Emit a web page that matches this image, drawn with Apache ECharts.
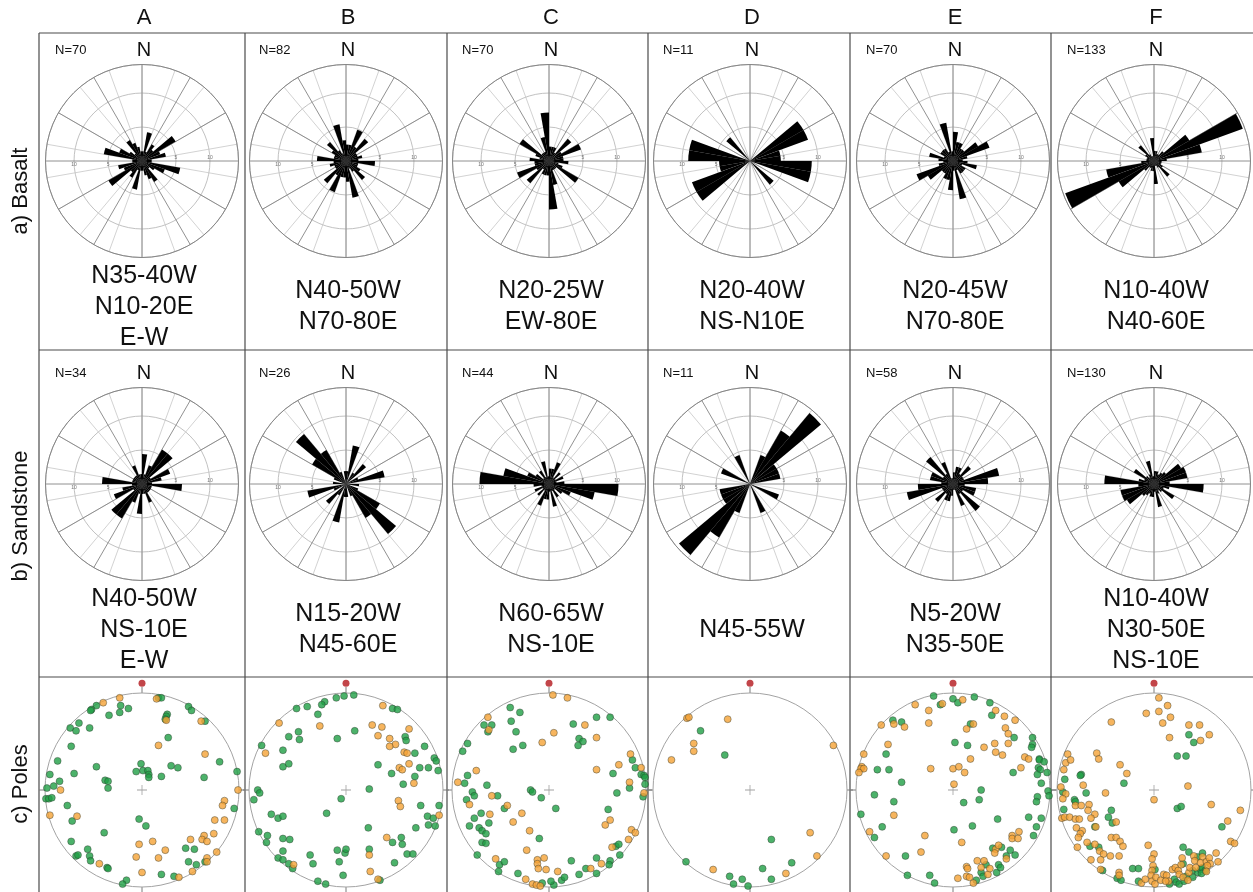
<!DOCTYPE html>
<html>
<head>
<meta charset="utf-8">
<script src="https://cdn.jsdelivr.net/npm/echarts@6/dist/echarts.min.js"></script>
<style>
html,body{margin:0;padding:0;background:#fff;}
#chart{width:1253px;height:892px;}
</style>
</head>
<body>
<div id="chart"></div>
<script>
// ---- Data -------------------------------------------------------------
const columns = ['A', 'B', 'C', 'D', 'E', 'F'];
const rowTitles = ['a) Basalt', 'b) Sandstone', 'c) Poles'];

// 10° strike bins, clockwise from north
const binStarts = [0,10,20,30,40,50,60,70,80,90,100,110,120,130,140,150,160,170,
                   180,190,200,210,220,230,240,250,260,270,280,290,300,310,320,330,340,350];

// strike counts per 10° bin (0-180°); each strike is axial, so the 180-360° half repeats it
const basaltA = [2,6,2,4,3,8,4,5,2,2,8,5,3,2,5,4,3,2];
const basaltB = [4,4,8,4,7,3,3,4,3,7,3,3,4,6,3,2,9,5];
const basaltC = [3,3,3,2,6,3,7,3,3,4,2,3,7,2,2,2,5,10];
const basaltD = [0,0,0,0,0,2,2,1,1,2,2,0,0,1,0,0,0,0];
const basaltE = [6,4,4,3,3,6,8,3,2,3,5,2,3,3,3,2,8,2];
const basaltF = [4,4,3,3,5,16,37,19,5,3,3,3,4,8,3,2,2,9];
const sandA = [3,1,2,4,4,1,3,2,1,4,1,1,1,1,1,2,1,1];
const sandB = [1,3,0,1,2,0,1,3,0,1,0,1,3,5,3,1,0,1];
const sandC = [2,2,3,1,2,1,2,1,2,9,6,3,2,1,2,1,3,1];
const sandD = [0,0,1,2,3,1,1,1,0,0,0,1,0,0,0,1,0,0];
const sandE = [2,3,3,2,4,2,2,8,6,2,4,4,2,6,2,4,1,1];
const sandF = [5,5,4,5,6,12,13,13,6,19,6,4,9,4,3,4,9,3];

const nBasalt = [70, 82, 70, 11, 70, 133];
const nSand = [34, 26, 44, 11, 58, 130];

const basaltTrends = [['N35-40W','N10-20E','E-W'], ['N40-50W','N70-80E'], ['N20-25W','EW-80E'],
                      ['N20-40W','NS-N10E'], ['N20-45W','N70-80E'], ['N10-40W','N40-60E']];
const sandTrends = [['N40-50W','NS-10E','E-W'], ['N15-20W','N45-60E'], ['N60-65W','NS-10E'],
                    ['N45-55W'], ['N5-20W','N35-50E'], ['N10-40W','N30-50E','NS-10E']];

const roseTicks = [5, 10];

// poles on the net, [x, y] with the primitive circle at radius 100
const polesBasaltA = [[17,95],[20,95],[-47,87],[-52,83],[-53,82],[-22,87],[-14,84],[-23,80],[-34,77],[-65,69],[-74,64],[-68,61],[-54,64],[26,78],[25,76],[24,73],[48,86],[51,82],[65,71],[27,54],[-73,45],[-87,30],[-47,24],[-70,17],[-95,16],[-1,27],[-6,19],[1,20],[6,20],[7,16],[7,13],[20,14],[30,25],[37,23],[80,29],[98,19],[64,13],[-38,10],[-35,9],[-35,2],[-85,9],[-91,4],[-98,2],[-99,-9],[-96,-9],[-93,-8],[-77,-16],[-72,-32],[95,-19],[-3,-30],[4,-37],[-39,-44],[-73,-53],[45,-60],[54,-61],[-56,-61],[-68,-68],[-66,-67],[-54,-68],[-53,-73],[-36,-80],[-35,-81],[48,-74],[56,-77],[65,-74],[20,-87],[33,-89],[-16,-93],[-20,-97]];
const polesSandA = [[15,94],[-23,95],[-40,90],[25,72],[61,71],[17,46],[65,37],[-84,0],[-95,-26],[-67,-27],[99,0],[85,-11],[83,-16],[75,-31],[85,-31],[74,-45],[64,-47],[62,-51],[67,-53],[50,-51],[-3,-56],[11,-53],[24,-62],[-44,-76],[-6,-69],[17,-70],[67,-70],[67,-74],[77,-64],[0,-85],[38,-90],[52,-84]];

const polesBasaltB = [[-2,97],[-10,95],[8,98],[-22,91],[-25,88],[-40,86],[-51,84],[-29,78],[-49,60],[-59,55],[-48,52],[-9,53],[9,61],[-87,46],[-65,41],[-65,24],[-59,27],[48,84],[53,83],[61,55],[62,51],[81,45],[71,38],[76,23],[85,23],[91,33],[93,30],[95,20],[71,14],[59,6],[47,17],[33,26],[24,1],[-5,-9],[-20,-24],[-91,0],[-89,-3],[-95,-10],[-77,-25],[-70,-29],[-65,-27],[-90,-43],[-81,-47],[-82,-54],[-65,-50],[-58,-51],[-65,-63],[-70,-70],[-65,-72],[-59,-76],[-55,-81],[-34,-76],[-37,-67],[-29,-94],[-21,-97],[-3,-88],[-7,-74],[-9,-62],[-1,-65],[0,-61],[23,-39],[24,-61],[35,-93],[48,-54],[57,-49],[58,-56],[50,-75],[63,-66],[69,-66],[72,-39],[77,-16],[84,-27],[90,-29],[85,-36],[92,-37],[96,-16]];
const polesSandB = [[-69,69],[-27,66],[-83,38],[38,87],[27,67],[37,65],[33,56],[45,53],[51,47],[45,45],[65,63],[60,39],[63,38],[65,27],[55,23],[58,21],[70,7],[-54,-77],[24,-67],[25,-84],[33,-92],[42,-49],[96,-26],[54,-11],[56,-17]];

const polesBasaltC = [[-40,85],[-30,80],[-67,67],[-59,67],[-63,60],[-39,71],[-34,60],[-84,48],[-89,40],[-37,42],[-27,46],[25,68],[49,75],[63,75],[31,53],[35,50],[30,46],[86,31],[89,23],[66,17],[95,16],[98,15],[99,13],[83,2],[99,6],[97,-7],[70,-3],[-84,15],[-87,7],[-64,5],[-79,-2],[-77,-6],[-85,-10],[-53,-6],[-19,0],[-17,-2],[-8,-8],[7,-19],[-46,-19],[-70,-24],[-77,-29],[-62,-34],[-82,-37],[-72,-39],[-69,-42],[-65,-45],[-69,-54],[-65,-55],[-10,-50],[-74,-67],[-51,-77],[-46,-74],[-52,-84],[-32,-86],[-7,-96],[5,-98],[2,-94],[13,-93],[16,-90],[23,-73],[31,-87],[38,-81],[49,-86],[49,-70],[63,-73],[62,-77],[69,-58],[72,-56],[73,-67],[61,-20]];
const polesSandC = [[4,98],[19,95],[-63,75],[-62,62],[-7,49],[5,59],[37,67],[49,54],[84,37],[72,26],[95,23],[49,21],[83,8],[98,-3],[-75,20],[-94,8],[-82,-15],[-59,-6],[-43,-16],[-28,-24],[-61,-25],[-37,-33],[-20,-42],[-55,-71],[-23,-62],[-12,-72],[-12,-76],[-11,-81],[-5,-70],[-3,-82],[9,-84],[-24,-92],[-17,-97],[-13,-98],[-9,-99],[43,-81],[54,-76],[65,-59],[82,-51],[85,-41],[89,-44],[58,-36],[63,-31]];

const polesBasaltD = [[-51,61],[-26,36],[22,-51],[43,-75],[13,-81],[22,-92],[-66,-74],[-21,-89],[-17,-97],[-8,-92],[-2,-99]];
const polesSandD = [[-65,74],[-63,75],[-23,73],[-58,48],[-58,40],[-81,31],[86,46],[62,-44],[69,-68],[37,-86],[-38,-82]];

const polesBasaltE = [[-20,97],[0,94],[5,90],[22,96],[-13,88],[38,90],[40,77],[-62,72],[-53,70],[18,68],[63,54],[82,54],[82,47],[81,44],[2,49],[15,46],[62,18],[89,32],[89,31],[94,29],[88,23],[90,21],[97,18],[87,16],[91,7],[98,-1],[99,-6],[87,-7],[86,-12],[-69,37],[-78,21],[-66,21],[-53,8],[29,0],[27,-10],[11,-13],[-81,-5],[-61,-12],[-95,-25],[-73,-38],[-81,-49],[46,-30],[78,-28],[91,-29],[86,-38],[83,-47],[1,-41],[20,-37],[-49,-68],[-47,-88],[-24,-88],[-19,-96],[24,-93],[29,-85],[34,-77],[31,-89],[41,-60],[50,-59],[47,-77],[45,-85],[55,-68],[59,-62],[64,-67],[49,-80]];
const polesSandE = [[10,93],[-11,89],[-39,88],[-25,82],[44,82],[53,76],[64,72],[-61,68],[-50,65],[-74,67],[-25,69],[21,68],[14,63],[54,64],[57,58],[32,44],[43,48],[57,48],[44,39],[51,36],[74,34],[78,32],[70,23],[-67,47],[-92,37],[-94,24],[-95,22],[-92,22],[-97,18],[-23,22],[0,22],[6,24],[12,18],[18,32],[1,6],[-61,-26],[-86,-43],[68,-43],[61,-47],[61,-50],[67,-50],[9,-54],[-29,-47],[-33,-64],[-69,-68],[5,-91],[14,-79],[15,-81],[14,-89],[17,-90],[21,-96],[25,-73],[29,-80],[32,-73],[36,-87],[38,-81],[44,-61],[43,-65],[47,-57],[55,-71]];

const polesBasaltF = [[36,57],[41,49],[24,35],[33,35],[-31,7],[-75,16],[-76,15],[-92,11],[-94,-2],[-70,-3],[-82,-10],[-81,-12],[-93,-20],[-44,-21],[-47,-28],[-43,-34],[-61,-38],[24,-19],[28,-17],[70,-38],[-66,-58],[-57,-59],[-53,-83],[-22,-81],[-16,-81],[1,-82],[-38,-91],[-34,-93],[-16,-94],[21,-92],[23,-95],[30,-76],[30,-59],[36,-64],[45,-69],[50,-65],[33,-89],[40,-83],[45,-85],[48,-82],[50,-80],[53,-83],[40,-90],[26,-97],[31,-94],[16,-97],[49,-86]];
const polesSandF = [[5,95],[-8,79],[5,81],[14,87],[17,75],[9,69],[-44,70],[36,67],[47,67],[57,57],[48,51],[16,54],[-89,37],[-91,28],[-86,31],[-93,21],[-59,38],[-57,32],[-35,26],[-28,17],[-73,5],[-96,3],[-91,-4],[-50,-3],[-81,-16],[-75,-16],[-94,-9],[-67,-15],[-68,-21],[-61,-25],[-65,-29],[-39,-33],[-95,-29],[-92,-28],[-87,-28],[-81,-30],[-77,-30],[-80,-39],[-74,-42],[-76,-45],[-78,-49],[-60,-38],[0,-10],[35,4],[59,-15],[89,-21],[76,-32],[-79,-59],[-69,-54],[-61,-56],[-56,-63],[-52,-66],[-44,-49],[-39,-49],[-35,-53],[-32,-58],[-36,-68],[-45,-68],[-65,-72],[-55,-72],[-55,-82],[-6,-57],[0,-66],[-2,-71],[-1,-78],[-2,-83],[-36,-85],[-36,-88],[-13,-96],[-9,-92],[-3,-88],[-2,-94],[2,-90],[1,-97],[7,-93],[10,-87],[13,-88],[15,-94],[19,-82],[22,-80],[25,-83],[28,-77],[29,-70],[41,-68],[42,-73],[50,-69],[48,-75],[54,-74],[57,-70],[58,-76],[64,-65],[66,-74],[79,-53],[83,-55],[26,-87],[30,-90],[36,-85],[37,-80],[43,-80],[55,-78],[35,-93],[12,-94],[54,-84]];

// north marker position on each net
const northMarker = [[0, 110]];
const netCentre = [[0, 0]];

// ---- Layout -------------------------------------------------------------
const colX = [142, 346, 549, 750, 953, 1154];
const colBorders = [39, 245, 447, 648, 850, 1051];
const rowLines = [33, 350, 677];
const roseY = [161, 484];
const netY = 790;
const ROSE_R = 96.5;
const ROSE_MAX = 14.2;   // percent at the outer circle
const NET_R = 97;
const FONT = '"Liberation Sans", Arial, sans-serif';

const basaltSets = [basaltA, basaltB, basaltC, basaltD, basaltE, basaltF];
const sandSets = [sandA, sandB, sandC, sandD, sandE, sandF];
const basaltPoles = [polesBasaltA, polesBasaltB, polesBasaltC, polesBasaltD, polesBasaltE, polesBasaltF];
const sandPoles = [polesSandA, polesSandB, polesSandC, polesSandD, polesSandE, polesSandF];

const polar = [], angleAxis = [], radiusAxis = [], grid = [], xAxis = [], yAxis = [], series = [], graphic = [];

const hidden = { show: false };

function addRose(cx, cy, counts, n) {
  // percent of all bin entries (each strike fills two opposite bins)
  const pct = counts.concat(counts).map(c => +(c * 100 / (2 * n)).toFixed(3));

  // bars + 10° spokes + ring lines
  let p = polar.length;
  polar.push({ center: [cx, cy], radius: ROSE_R });
  angleAxis.push({
    polarIndex: p, type: 'category', data: binStarts, startAngle: 90, clockwise: true, boundaryGap: true,
    axisLine: { show: true, lineStyle: { color: '#868686', width: 1 } },
    axisTick: hidden, axisLabel: hidden,
    splitLine: { show: true, lineStyle: { color: '#c6c6c6', width: 0.8 } }
  });
  radiusAxis.push({
    polarIndex: p, type: 'value', min: 0, max: ROSE_MAX, interval: 5,
    axisLine: hidden, axisTick: hidden, axisLabel: hidden,
    splitLine: { show: true, lineStyle: { color: '#bababa', width: 0.9 } }
  });
  series.push({
    type: 'bar', coordinateSystem: 'polar', polarIndex: p, data: pct,
    barCategoryGap: '0%', barGap: '0%', itemStyle: { color: '#000' }, z: 5, silent: true
  });

  // 30° spokes with the eastern scale labels
  p = polar.length;
  polar.push({ center: [cx, cy], radius: ROSE_R });
  angleAxis.push({
    polarIndex: p, type: 'value', min: 0, max: 360, interval: 30, startAngle: 0, clockwise: true,
    axisLine: hidden, axisTick: hidden, axisLabel: hidden,
    splitLine: { show: true, lineStyle: { color: '#858585', width: 0.9 } }
  });
  radiusAxis.push({
    polarIndex: p, type: 'value', min: 0, max: ROSE_MAX, interval: 5,
    axisLine: hidden, axisTick: hidden, splitLine: hidden,
    axisLabel: { show: true, fontSize: 5, color: '#777', margin: 1, fontFamily: FONT,
      formatter: v => roseTicks.includes(v) ? String(v) : '' }
  });

  // western scale labels
  p = polar.length;
  polar.push({ center: [cx, cy], radius: ROSE_R });
  angleAxis.push({ polarIndex: p, type: 'value', min: 0, max: 360, startAngle: 180, show: false });
  radiusAxis.push({
    polarIndex: p, type: 'value', min: 0, max: ROSE_MAX, interval: 5,
    axisLine: hidden, axisTick: hidden, splitLine: hidden,
    axisLabel: { show: true, fontSize: 5, color: '#777', margin: 1, fontFamily: FONT,
      formatter: v => roseTicks.includes(v) ? String(v) : '' }
  });
}

function addNet(cx, cy, greenPts, orangePts) {
  const p = polar.length;
  polar.push({ center: [cx, cy], radius: NET_R });
  angleAxis.push({
    polarIndex: p, type: 'value', min: 0, max: 360, interval: 90, startAngle: 90,
    axisLine: { show: true, lineStyle: { color: '#a3a3a3', width: 1 } },
    axisTick: { show: true, length: 6, lineStyle: { color: '#7a7a7a', width: 1 } },
    axisLabel: hidden, splitLine: hidden
  });
  radiusAxis.push({ polarIndex: p, type: 'value', min: 0, max: 1, show: false });

  const g = grid.length;
  grid.push({ left: cx - NET_R, top: cy - NET_R, width: 2 * NET_R, height: 2 * NET_R, containLabel: false });
  xAxis.push({ gridIndex: g, type: 'value', min: -100, max: 100, show: false });
  yAxis.push({ gridIndex: g, type: 'value', min: -100, max: 100, show: false });

  const dot = { borderColor: 'rgba(45,55,45,0.75)', borderWidth: 0.7 };
  series.push({
    type: 'scatter', xAxisIndex: g, yAxisIndex: g, data: greenPts, symbolSize: 7, clip: false, silent: true,
    itemStyle: Object.assign({ color: '#1f9f45' }, dot), z: 4
  });
  series.push({
    type: 'scatter', xAxisIndex: g, yAxisIndex: g, data: orangePts, symbolSize: 7, clip: false, silent: true,
    itemStyle: Object.assign({ color: '#f5a236' }, dot), z: 5
  });
  series.push({
    type: 'scatter', xAxisIndex: g, yAxisIndex: g, data: northMarker, symbolSize: 7, clip: false, silent: true,
    itemStyle: { color: '#b3171c' }, z: 6
  });
  series.push({
    type: 'scatter', xAxisIndex: g, yAxisIndex: g, data: netCentre, symbolSize: 10, clip: false, silent: true,
    symbol: 'path://M4.6,0h0.8v4.6h4.6v0.8h-4.6v4.6h-0.8v-4.6h-4.6v-0.8h4.6z',
    itemStyle: { color: '#8a8a8a' }, z: 3
  });
}

function text(x, y, str, size, opts) {
  graphic.push(Object.assign({
    type: 'text', x: x, y: y, silent: true,
    style: Object.assign({ text: str, fill: '#111', font: size + 'px ' + FONT, textAlign: 'center', textVerticalAlign: 'middle' },
      (opts && opts.style) || {})
  }, (opts && opts.el) || {}));
}

// panel frame
colBorders.forEach(x => graphic.push({ type: 'line', silent: true, shape: { x1: x, y1: rowLines[0], x2: x, y2: 892 },
  style: { stroke: '#4a4a4a', lineWidth: 1.2 } }));
rowLines.forEach(y => graphic.push({ type: 'line', silent: true, shape: { x1: colBorders[0], y1: y, x2: 1253, y2: y },
  style: { stroke: '#4a4a4a', lineWidth: 1.2 } }));

// row titles
text(21, 191, rowTitles[0], 22, { el: { rotation: Math.PI / 2 } });
text(21, 516, rowTitles[1], 22, { el: { rotation: Math.PI / 2 } });
text(21, 784, rowTitles[2], 22, { el: { rotation: Math.PI / 2 } });

columns.forEach((c, i) => {
  const x = colX[i];
  text(x + 2, 18, c, 22);

  [[basaltSets, nBasalt, basaltTrends], [sandSets, nSand, sandTrends]].forEach(([sets, ns, trends], r) => {
    const cy = roseY[r];
    addRose(x, cy, sets[i], ns[i]);
    text(x + 2, cy - 111, 'N', 20);
    text(x - 87, cy - 111, 'N=' + ns[i], 13, { style: { textAlign: 'left' } });
    const lines = trends[i];
    const mid = cy + 146;
    lines.forEach((s, k) => text(x + 2, mid + (k - (lines.length - 1) / 2) * 31, s, 25));
  });

  addNet(x, netY, basaltPoles[i], sandPoles[i]);
});

const chart = echarts.init(document.getElementById('chart'), null, { renderer: 'canvas' });
chart.setOption({
  animation: false,
  backgroundColor: '#fff',
  polar, angleAxis, radiusAxis, grid, xAxis, yAxis, series, graphic
});
</script>
</body>
</html>
